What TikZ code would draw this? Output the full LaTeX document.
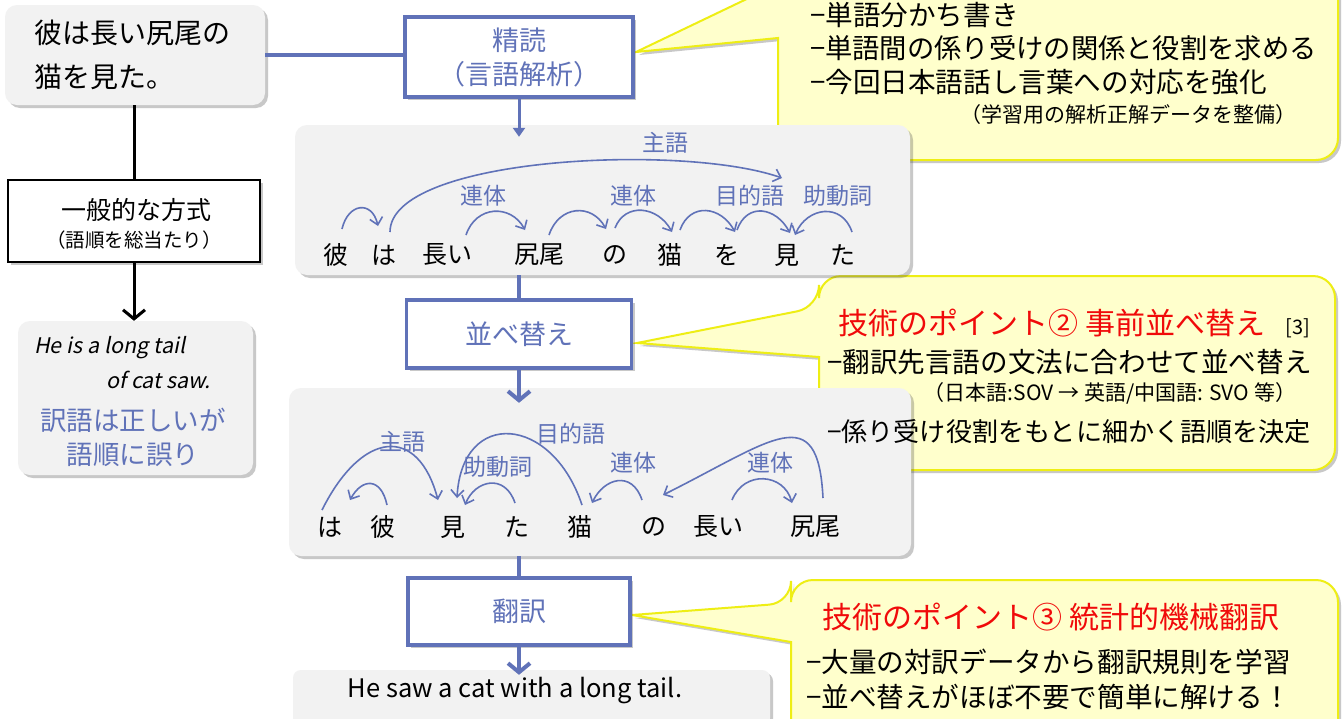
\documentclass[tikz,border=0pt]{standalone}
\usepackage{fontspec}
\setmainfont{Noto Sans CJK JP}
\newfontfamily\slfont{Noto Sans CJK JP}[FakeSlant=0.2]
\usetikzlibrary{arrows.meta,shadows}
\definecolor{bl}{RGB}{96,114,184}
\definecolor{panelgray}{RGB}{242,242,242}
\definecolor{yfill}{RGB}{255,255,204}
\definecolor{yborder}{RGB}{238,238,20}
\definecolor{ptred}{RGB}{240,10,10}
\newcommand{\fs}[1]{\fontsize{#1}{#1}\selectfont}
\begin{document}
\begin{tikzpicture}[x=1pt,y=-1pt,
  shadowed/.style={drop shadow={shadow xshift=3pt,shadow yshift=-3pt,opacity=0.3,fill=black!70}},
  graybox/.style={rectangle,fill=panelgray,rounded corners=12pt,shadowed,inner sep=0pt},
  bluebox/.style={rectangle,draw=bl,line width=3.2pt,fill=white,shadowed,inner sep=0pt,text=bl,font=\fs{27},align=center},
  blackbox/.style={rectangle,draw=black,line width=2pt,fill=white,shadowed,inner sep=0pt,align=center},
  callout/.style={draw=yborder,line width=2pt,fill=yfill,shadowed},
  word/.style={inner sep=0pt,font=\fs{25}},
  lab/.style={inner sep=0pt,text=bl,font=\fs{23}},
  arc/.style={draw=bl,line width=1.6pt,-{Straight Barb[length=7pt,width=13pt]}},
  blueline/.style={draw=bl,line width=3.2pt},
  bluearrow/.style={draw=bl,line width=4pt,-{Straight Barb[length=9pt,width=22pt]}},
  blackline/.style={draw=black,line width=3pt},
  blackarrow/.style={draw=black,line width=3pt,-{Straight Barb[length=9pt,width=22pt]}},
  ctext/.style={inner sep=0pt,anchor=west,font=\fs{27.6}},
  csmall/.style={inner sep=0pt,font=\fs{21}},
  ctitle/.style={inner sep=0pt,text=ptred,font=\fs{30}}]
\useasboundingbox (0,0) rectangle (1342,718);
\fill[white] (0,0) rectangle (1342,718);

% ---------- left column ----------
\node[graybox,minimum width=260pt,minimum height=100pt] (src) at (135,55) {};
\node[inner sep=0pt,anchor=west,font=\fs{28}] (srct1) at (34,33) {彼は長い尻尾の};
\node[inner sep=0pt,anchor=west,font=\fs{28}] (srct2) at (34,77) {猫を見た。};

\node[blackbox,minimum width=252pt,minimum height=82pt] (ippan) at (134,221) {};
\node[inner sep=0pt,font=\fs{25}] (ippant1) at (136,210) {一般的な方式};
\node[inner sep=0pt,font=\fs{19.5}] (ippant2) at (134,240) {（語順を総当たり）};

\node[graybox,minimum width=235pt,minimum height=154pt] (wrong) at (135.5,398) {};
\node[inner sep=0pt,anchor=west,font=\slfont\fs{21.5}] (wt1) at (34,348) {He is a long tail};
\node[inner sep=0pt,anchor=west,font=\slfont\fs{21.5}] (wt2) at (106,380) {of cat saw.};
\node[inner sep=0pt,text=bl,font=\fs{26.5}] (wt3) at (133,420) {訳語は正しいが};
\node[inner sep=0pt,text=bl,font=\fs{26.5}] (wt4) at (133,455) {語順に誤り};

\draw[blackline] (src.south -| ippan.north) -- (ippan.north);
\draw[blackarrow] (ippan.south) -- (wrong.north -| ippan.south);

% ---------- callouts (behind) ----------
\draw[callout] (1000,160) [rounded corners=22pt] -- (1338,160) -- (1338,-40) -- (778,-40) -- (778,-16) [sharp corners] -- (636,52) -- (778,38) [rounded corners=22pt] -- (778,160) -- cycle;
\draw[callout] (1000,470) [rounded corners=22pt] -- (1335,470) -- (1335,276) -- (819,276) -- (819,307) [sharp corners] -- (637,343) -- (819,357) [rounded corners=22pt] -- (819,470) -- cycle;
\draw[callout] (1000,750) [rounded corners=22pt] -- (1338,750) -- (1338,580) -- (791,580) -- (791,603) [sharp corners] -- (632,615) -- (791,642) [rounded corners=22pt] -- (791,750) -- cycle;

% ---------- panel 1 ----------
\node[graybox,minimum width=615pt,minimum height=150pt] (p1) at (602.5,200) {};
\node[word] (w1) at (336,255) {彼};
\node[word] (w2) at (384,255) {は};
\node[word] (w3) at (447,255) {長い};
\node[word] (w4) at (539,255) {尻尾};
\node[word] (w5) at (615,255) {の};
\node[word] (w6) at (670,255) {猫};
\node[word] (w7) at (727,255) {を};
\node[word] (w8) at (787,255) {見};
\node[word] (w9) at (843,255) {た};
\node[lab] (l1a) at (665,143) {主語};
\node[lab] (l1b) at (483,196) {連体};
\node[lab] (l1c) at (633,196) {連体};
\node[lab] (l1d) at (750,196) {目的語};
\node[lab] (l1e) at (838,196) {助動詞};
\draw[arc] ([shift={(6,-26)}]w1.center) .. controls +(6,-26) and +(-6,-26) .. ([shift={(-6,-29)}]w2.center);
\draw[arc] ([shift={(6,-23)}]w2.center) .. controls +(0,-75) and +(-100,-35) .. ([shift={(-5,-77)}]w8.center);
\draw[arc] ([shift={(19,-20)}]w3.center) .. controls +(10,-30) and +(-14,-26) .. ([shift={(-14,-25)}]w4.center);
\draw[arc] ([shift={(10,-20)}]w4.center) .. controls +(10,-30) and +(-14,-26) .. ([shift={(-9,-26)}]w5.center);
\draw[arc] ([shift={(0,-27)}]w5.center) .. controls +(10,-26) and +(-14,-26) .. ([shift={(2,-23)}]w6.center);
\draw[arc] ([shift={(10,-25)}]w6.center) .. controls +(10,-28) and +(-14,-26) .. ([shift={(8,-23)}]w7.center);
\draw[arc] ([shift={(10,-25)}]w7.center) .. controls +(10,-28) and +(-14,-26) .. ([shift={(3,-22)}]w8.center);
\draw[arc] ([shift={(9,-23)}]w9.center) .. controls +(-10,-30) and +(12,-28) .. ([shift={(8,-20)}]w8.center);

% ---------- panel 2 ----------
\node[graybox,minimum width=622pt,minimum height=168pt] (p2) at (600,472) {};
\node[word] (v1) at (330,527) {は};
\node[word] (v2) at (383,527) {彼};
\node[word] (v3) at (453,527) {見};
\node[word] (v4) at (517,527) {た};
\node[word] (v5) at (580,527) {猫};
\node[word] (v6) at (654,527) {の};
\node[word] (v7) at (718,527) {長い};
\node[word] (v8) at (815,527) {尻尾};
\node[lab] (l2a) at (402,442) {主語};
\node[lab] (l2b) at (571,434) {目的語};
\node[lab] (l2c) at (498,467) {助動詞};
\node[lab] (l2d) at (633,463) {連体};
\node[lab] (l2e) at (770,463) {連体};
\draw[arc] ([shift={(-8,-17)}]v1.center) .. controls +(40,-80) and +(-20,-75) .. ([shift={(-15,-27)}]v3.center);
\draw[arc] ([shift={(4,-22)}]v2.center) .. controls +(-6,-28) and +(12,-22) .. ([shift={(20,-27)}]v1.center);
\draw[arc] ([shift={(2,-22)}]v5.center) .. controls +(-30,-90) and +(5,-90) .. ([shift={(4,-29)}]v3.center);
\draw[arc] ([shift={(-2,-24)}]v4.center) .. controls +(-10,-30) and +(10,-25) .. ([shift={(12,-22)}]v3.center);
\draw[arc] ([shift={(-12,-27)}]v6.center) .. controls +(-10,-30) and +(12,-25) .. ([shift={(12,-24)}]v5.center);
\draw[arc] ([shift={(14,-27)}]v7.center) .. controls +(12,-30) and +(-8,-30) .. ([shift={(-23,-24)}]v8.center);
\draw[arc] ([shift={(8,-29)}]v8.center) .. controls +(-5,-100) and +(110,-55) .. ([shift={(9,-32)}]v6.center);

% ---------- result ----------
\node[graybox,rounded corners=8pt,minimum width=477pt,minimum height=56pt] (res) at (531.5,698) {};
\node[inner sep=0pt,font=\fs{25.5}] (rest) at (515,691) {He saw a cat with a long tail.};

% ---------- centre column boxes ----------
\node[bluebox,minimum width=228pt,minimum height=80pt] (seidoku) at (519,57) {精読\\[7pt]（言語解析）};
\node[bluebox,minimum width=225pt,minimum height=68pt] (narabe) at (519,334) {並べ替え};
\node[bluebox,minimum width=222pt,minimum height=67pt] (honyaku) at (519,611.5) {翻訳};

\draw[blueline] (src.east |- src.center) -- (src.center -| seidoku.west);
\draw[draw=bl,line width=3pt,-{Triangle[length=9pt,width=12pt]}] (seidoku.south) -- ([yshift=-12pt]p1.north -| seidoku.south);
\draw[blueline] (p1.south -| narabe.north) -- (narabe.north);
\draw[bluearrow] (narabe.south) -- ([yshift=-15pt]p2.north -| narabe.south);
\draw[blueline] (p2.south -| honyaku.north) -- (honyaku.north);
\draw[bluearrow] (honyaku.south) -- ([yshift=-5pt]res.north -| honyaku.south);

% ---------- callout texts ----------
\node[ctext] (c1a) at (810,15) {−単語分かち書き};
\node[ctext,font=\fs{27.3}] (c1b) at (810,48) {−単語間の係り受けの関係と役割を求める};
\node[ctext] (c1c) at (810,82) {−今回日本語話し言葉への対応を強化};
\node[csmall] (c1d) at (1128,115) {（学習用の解析正解データを整備）};

\node[ctitle] (c2t) at (1052,323) {技術のポイント② 事前並べ替え};
\node[inner sep=0pt,font=\fs{20}] (c2ref) at (1298,328) {[3]};
\node[ctext] (c2a) at (827,362) {−翻訳先言語の文法に合わせて並べ替え};
\node[csmall] (c2b) at (1110,393) {（日本語:SOV → 英語/中国語: SVO 等）};
\node[ctext,font=\fs{26.1}] (c2c) at (827,432) {−係り受け役割をもとに細かく語順を決定};

\node[ctitle] (c3t) at (1051,617) {技術のポイント③ 統計的機械翻訳};
\node[ctext] (c3a) at (806,662) {−大量の対訳データから翻訳規則を学習};
\node[ctext] (c3b) at (806,697) {−並べ替えがほぼ不要で簡単に解ける！};
\end{tikzpicture}
\end{document}
